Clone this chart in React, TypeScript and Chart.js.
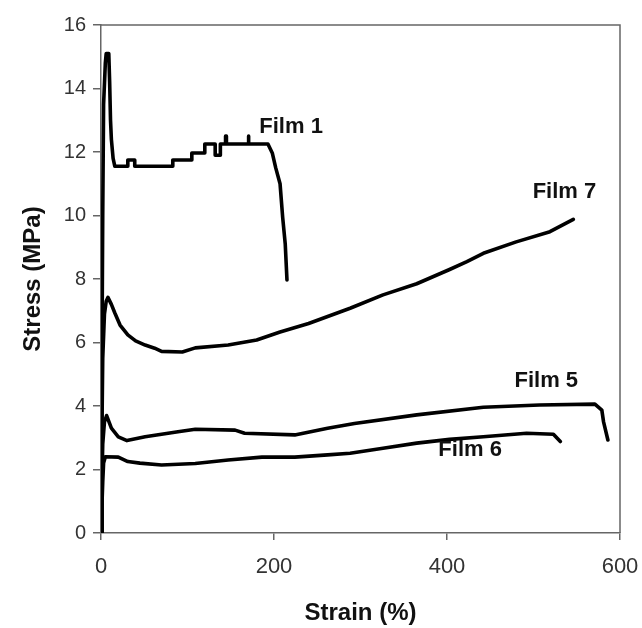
import React, { useEffect, useRef } from "react";
import { Chart, registerables } from "chart.js";

Chart.register(...registerables);

// Strain (%) and Stress (MPa)
const film1X = [0, 1, 2, 3, 5, 6, 9, 10, 11, 12, 14, 16, 31, 31, 39, 39, 83, 83, 105, 105, 120, 120, 132, 132, 138, 138, 144, 144, 145, 145, 170, 170, 171, 171, 193, 198, 202, 207, 210, 213, 215];
const film1Y = [0, 5, 10, 13.5, 14.8, 15.1, 15.1, 14.2, 13, 12.4, 11.8, 11.55, 11.55, 11.75, 11.75, 11.55, 11.55, 11.75, 11.75, 11.97, 11.97, 12.25, 12.25, 11.9, 11.9, 12.25, 12.25, 12.5, 12.5, 12.25, 12.25, 12.5, 12.5, 12.25, 12.25, 11.97, 11.5, 11.0, 9.95, 9.1, 7.97];

const film7X = [0, 1, 2, 4, 6, 8, 12, 16, 22, 31, 40, 51, 62, 70, 94, 109, 147, 180, 207, 240, 288, 326, 365, 403, 423, 442, 480, 519, 546];
const film7Y = [0, 3, 5.5, 6.9, 7.3, 7.42, 7.2, 6.93, 6.55, 6.24, 6.05, 5.92, 5.82, 5.72, 5.7, 5.83, 5.92, 6.08, 6.33, 6.6, 7.08, 7.5, 7.85, 8.3, 8.55, 8.81, 9.17, 9.49, 9.88];

const film5X = [0, 1, 2, 4, 6.5, 12, 20, 30, 51, 89, 109, 155, 166, 224, 262, 293, 365, 442, 507, 571, 579, 581, 586];
const film5Y = [0, 1.5, 2.8, 3.5, 3.7, 3.3, 3.03, 2.91, 3.03, 3.19, 3.27, 3.24, 3.14, 3.09, 3.3, 3.45, 3.72, 3.96, 4.03, 4.06, 3.87, 3.5, 2.93];

const film6X = [0, 1, 2, 3, 5, 20, 31, 45, 70, 109, 147, 186, 224, 262, 288, 326, 365, 403, 442, 492, 523, 531];
const film6Y = [0, 0.8, 1.6, 2.2, 2.4, 2.39, 2.25, 2.2, 2.14, 2.19, 2.3, 2.39, 2.39, 2.46, 2.51, 2.67, 2.83, 2.95, 3.03, 3.14, 3.11, 2.88];

const labelTexts = ["Film 1", "Film 7", "Film 5", "Film 6"];
const labelX = [183, 499, 478, 390];
const labelY = [12.8, 10.74, 4.79, 2.61];

const xTicks = [0, 200, 400, 600];
const yTicks = [0, 2, 4, 6, 8, 10, 12, 14, 16];

const FONT = "'Liberation Sans', Arial, sans-serif";

const toPts = (xs: number[], ys: number[]) => xs.map((x, i) => ({ x, y: ys[i] }));

export default function App() {
  const ref = useRef<HTMLCanvasElement | null>(null);
  useEffect(() => {
    if (!ref.current) return;
    const mk = (xs: number[], ys: number[]) => ({
      data: toPts(xs, ys),
      borderColor: "#000",
      borderWidth: 3.6,
      pointRadius: 0,
      showLine: true,
      tension: 0,
      borderJoinStyle: "round" as const,
      borderCapStyle: "round" as const,
      fill: false,
    });
    const framePlugin = {
      id: "frame",
      afterDraw(chart: any) {
        const { ctx, chartArea: a, scales } = chart;
        ctx.save();
        ctx.strokeStyle = "#666";
        ctx.lineWidth = 1.5;
        ctx.beginPath();
        ctx.moveTo(a.left, a.top);
        ctx.lineTo(a.right, a.top);
        ctx.lineTo(a.right, a.bottom);
        ctx.stroke();
        ctx.fillStyle = "#111";
        ctx.font = `bold 22px ${FONT}`;
        ctx.textAlign = "left";
        ctx.textBaseline = "middle";
        labelTexts.forEach((t, i) => {
          ctx.fillText(t, scales.x.getPixelForValue(labelX[i]), scales.y.getPixelForValue(labelY[i]));
        });
        ctx.restore();
      },
    };
    const chart = new Chart(ref.current, {
      type: "scatter",
      data: {
        datasets: [mk(film1X, film1Y), mk(film7X, film7Y), mk(film5X, film5Y), mk(film6X, film6Y)],
      },
      options: {
        animation: false,
        responsive: false,
        layout: { padding: { top: 25, right: 22, left: 0, bottom: 0 } },
        plugins: { legend: { display: false }, tooltip: { enabled: false } },
        scales: {
          x: {
            type: "linear",
            min: 0,
            max: 600,
            afterBuildTicks: (s: any) => { s.ticks = xTicks.map((v) => ({ value: v })); },
            afterFit: (s: any) => { s.height = 95; s.paddingLeft = 0; s.paddingRight = 0; },
            ticks: { font: { family: FONT, size: 22 }, color: "#333", padding: 14, maxRotation: 0 },
            grid: { drawOnChartArea: false, drawTicks: true, tickLength: 7, color: "#666", lineWidth: 1.5 },
            border: { color: "#666", width: 1.5 },
            title: { display: true, text: "Strain (%)", font: { family: FONT, size: 24, weight: "bold" }, color: "#111", padding: { top: 0, bottom: 0 } },
          },
          y: {
            type: "linear",
            min: 0,
            max: 16,
            afterBuildTicks: (s: any) => { s.ticks = yTicks.map((v) => ({ value: v })); },
            afterFit: (s: any) => { s.width = 101; s.paddingTop = 0; s.paddingBottom = 0; },
            ticks: { font: { family: FONT, size: 20 }, color: "#333", padding: 7 },
            grid: { drawOnChartArea: false, drawTicks: true, tickLength: 8, color: "#666", lineWidth: 1.5 },
            border: { color: "#666", width: 1.5 },
            title: { display: true, text: "Stress (MPa)", font: { family: FONT, size: 24, weight: "bold" }, color: "#111", padding: { top: 19, bottom: 0 } },
          },
        },
      } as any,
      plugins: [framePlugin],
    });
    return () => chart.destroy();
  }, []);
  return (
    <div style={{ position: "fixed", left: 0, top: 0, width: 642, height: 628, background: "#fff" }}>
      <canvas ref={ref} width={642} height={628} style={{ width: 642, height: 628 }} />
    </div>
  );
}
